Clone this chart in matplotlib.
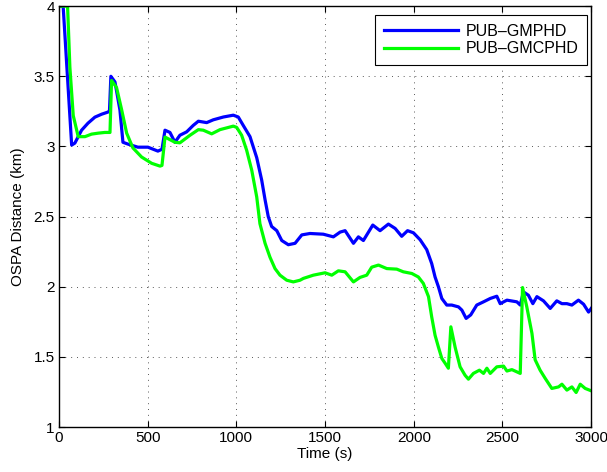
import numpy as np
import matplotlib
matplotlib.use('Agg')
import matplotlib.pyplot as plt

plt.rcParams['font.family'] = ['Liberation Sans', 'DejaVu Sans']

# Tiempo (s) y distancia OSPA (km)
t_gmphd = [0, 24, 72, 90, 128, 164, 203, 241, 276, 285, 293, 316, 344, 361, 389, 445, 502,
           558, 581, 598, 626, 654, 682, 720, 757, 786, 833, 870, 927, 983, 1011, 1039,
           1077, 1115, 1143, 1162, 1180, 1199, 1228, 1256, 1293, 1331, 1369, 1415, 1490,
           1547, 1585, 1613, 1660, 1688, 1716, 1769, 1810, 1857, 1895, 1932, 1965, 1998,
           2036, 2073, 2101, 2120, 2139, 2158, 2186, 2214, 2252, 2271, 2295, 2321, 2355,
           2393, 2431, 2468, 2487, 2525, 2581, 2600, 2618, 2646, 2671, 2694, 2731, 2769,
           2806, 2835, 2863, 2891, 2928, 2957, 2985, 3000]
ospa_gmphd = [4.0, 4.0, 3.01, 3.024, 3.116, 3.166, 3.209, 3.23, 3.245, 3.25, 3.50, 3.46,
              3.26, 3.03, 3.017, 2.995, 2.995, 2.967, 2.98, 3.116, 3.10, 3.03, 3.08, 3.104,
              3.15, 3.18, 3.17, 3.19, 3.21, 3.223, 3.21, 3.15, 3.07, 2.92, 2.76, 2.62, 2.50,
              2.43, 2.40, 2.33, 2.30, 2.31, 2.37, 2.38, 2.375, 2.356, 2.39, 2.40, 2.31,
              2.356, 2.33, 2.44, 2.40, 2.447, 2.416, 2.36, 2.40, 2.385, 2.335, 2.265, 2.166,
              2.07, 2.0, 1.917, 1.87, 1.87, 1.857, 1.834, 1.775, 1.80, 1.87, 1.893, 1.917,
              1.933, 1.88, 1.905, 1.893, 1.87, 1.964, 1.94, 1.88, 1.93, 1.90, 1.846, 1.90,
              1.88, 1.88, 1.87, 1.905, 1.876, 1.82, 1.846]

t_gmcphd = [0, 49, 62, 81, 109, 147, 184, 222, 259, 288, 297, 325, 354, 382, 417, 466, 523,
            570, 581, 598, 654, 682, 739, 786, 814, 861, 908, 983, 1002, 1030, 1058, 1087,
            1115, 1133, 1162, 1190, 1218, 1246, 1284, 1321, 1359, 1378, 1434, 1500, 1538,
            1575, 1613, 1660, 1697, 1735, 1763, 1801, 1848, 1904, 1941, 1989, 2026, 2054,
            2083, 2101, 2120, 2139, 2158, 2177, 2195, 2209, 2233, 2261, 2289, 2308, 2336,
            2370, 2393, 2412, 2431, 2468, 2506, 2525, 2553, 2581, 2600, 2613, 2637, 2666,
            2684, 2712, 2741, 2778, 2816, 2835, 2863, 2891, 2915, 2938, 2966, 3000]
ospa_gmcphd = [4.0, 4.0, 3.565, 3.22, 3.07, 3.07, 3.088, 3.095, 3.10, 3.10, 3.47, 3.42,
               3.26, 3.095, 2.99, 2.925, 2.88, 2.86, 2.865, 3.067, 3.03, 3.026, 3.08, 3.12,
               3.116, 3.09, 3.12, 3.145, 3.136, 3.08, 2.974, 2.83, 2.64, 2.45, 2.31, 2.21,
               2.13, 2.083, 2.047, 2.035, 2.047, 2.06, 2.083, 2.10, 2.083, 2.114, 2.107,
               2.035, 2.067, 2.083, 2.14, 2.155, 2.13, 2.126, 2.107, 2.095, 2.07, 2.024,
               1.93, 1.786, 1.655, 1.57, 1.49, 1.455, 1.42, 1.715, 1.57, 1.43, 1.37, 1.342,
               1.383, 1.406, 1.383, 1.42, 1.383, 1.43, 1.435, 1.40, 1.41, 1.394, 1.383,
               1.995, 1.857, 1.668, 1.48, 1.406, 1.347, 1.276, 1.287, 1.306, 1.264, 1.287,
               1.247, 1.306, 1.276, 1.259]

xticks = [0, 500, 1000, 1500, 2000, 2500, 3000]
yticks = [1, 1.5, 2, 2.5, 3, 3.5, 4]
ytick_labels = ['1', '1.5', '2', '2.5', '3', '3.5', '4']

fig = plt.figure(figsize=(6.07, 4.72), dpi=100)
ax = fig.add_axes([0.097, 0.095, 0.877, 0.892])

ax.plot(t_gmphd, ospa_gmphd, color='#0000ff', linewidth=2.3, label='PUB\u2013GMPHD')
ax.plot(t_gmcphd, ospa_gmcphd, color='#00ff00', linewidth=2.3, label='PUB\u2013GMCPHD')

ax.set_xlim(0, 3000)
ax.set_ylim(1, 4)
ax.set_xticks(xticks)
ax.set_yticks(yticks)
ax.set_yticklabels(ytick_labels)
ax.tick_params(direction='in', top=True, right=True, labelsize=11, length=4, pad=3)
ax.grid(True, linestyle=(0, (1, 5)), color='0.35', linewidth=0.7)
for s in ax.spines.values():
    s.set_linewidth(1.0)

ax.set_xlabel('Time (s)', fontsize=11, labelpad=1)
ax.set_ylabel('OSPA Distance (km)', fontsize=11, labelpad=6)

leg = ax.legend(loc='upper right', bbox_to_anchor=(0.9925, 0.9786), borderaxespad=0,
                fontsize=11.5, fancybox=False, framealpha=1, edgecolor='black',
                handlelength=4.6, handletextpad=0.5, borderpad=0.55, labelspacing=0.15)
leg.get_frame().set_linewidth(0.8)

fig.savefig('out.png', dpi=100)
